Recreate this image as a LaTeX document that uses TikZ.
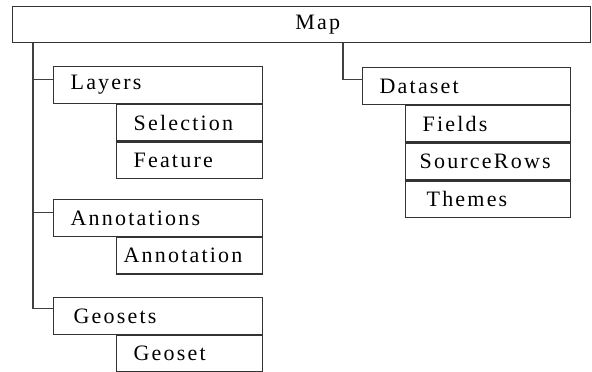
\documentclass[tikz,border=0pt]{standalone}
\usepackage{fontspec}
\setmainfont{Liberation Serif}[LetterSpace=10]
\usetikzlibrary{positioning,calc}

\newcommand\boxfont{\fontsize{11}{13}\selectfont}

\tikzset{
  box/.style={draw=black!80,line width=0.65pt,minimum height=18.25pt,
              inner ysep=0pt,inner xsep=8.5pt,align=left,font=\boxfont},
  group/.style={box,text width=87.5pt},
  item/.style={box,text width=56pt},
  dsitem/.style={box,text width=65.5pt},
  link/.style={draw=black!75,line width=0.65pt}
}

\begin{document}
\begin{tikzpicture}[x=0.5pt,y=-0.5pt]
  \useasboundingbox (0,0) rectangle (592,371);
  % root
  \node[box,anchor=north west,text width=272pt,align=center,minimum height=18pt]
    (map) at (12,6) {\hspace*{16pt}Map};
  % left column
  \node[group,anchor=north west] (layers) at (53,66) {Layers};
  \node[item,below left=0pt of layers.south east] (selection) {Selection};
  \node[item,below left=0pt of selection.south east] (feature) {Feature};
  \node[group,anchor=north west] (annotations) at (53,199) {Annotations};
  \node[item,below left=0pt of annotations.south east,inner xsep=3.5pt,text width=66pt]
    (annotation) {Annotation};
  \node[group,anchor=north west,inner xsep=10pt,text width=84.5pt] (geosets) at (53,297) {Geosets};
  \node[item,below left=0pt of geosets.south east] (geoset) {Geoset};
  % right column
  \node[box,anchor=north west,text width=87pt] (dataset) at (362,67) {Dataset};
  \node[dsitem,below left=0pt of dataset.south east] (fields) {Fields};
  \node[dsitem,below left=0pt of fields.south east,inner xsep=7pt,text width=68.5pt]
    (sourcerows) {SourceRows};
  \node[dsitem,below left=0pt of sourcerows.south east,inner xsep=10.5pt,text width=61.5pt]
    (themes) {Themes};

  % connectors
  \coordinate (trunk) at ([xshift=10.5pt]map.south west);
  \coordinate (lb) at ($(layers.north west)!0.35!(layers.south west)$);
  \coordinate (ab) at ($(annotations.north west)!0.35!(annotations.south west)$);
  \coordinate (gb) at ($(geosets.north west)!0.3!(geosets.south west)$);
  \draw[link] (trunk) |- (gb);
  \draw[link] (trunk |- lb) -- (lb);
  \draw[link] (trunk |- ab) -- (ab);
  \coordinate (dtop) at ([xshift=165.5pt]map.south west);
  \coordinate (db) at ($(dataset.north west)!0.33!(dataset.south west)$);
  \draw[link] (dtop) |- (db);
\end{tikzpicture}
\end{document}
